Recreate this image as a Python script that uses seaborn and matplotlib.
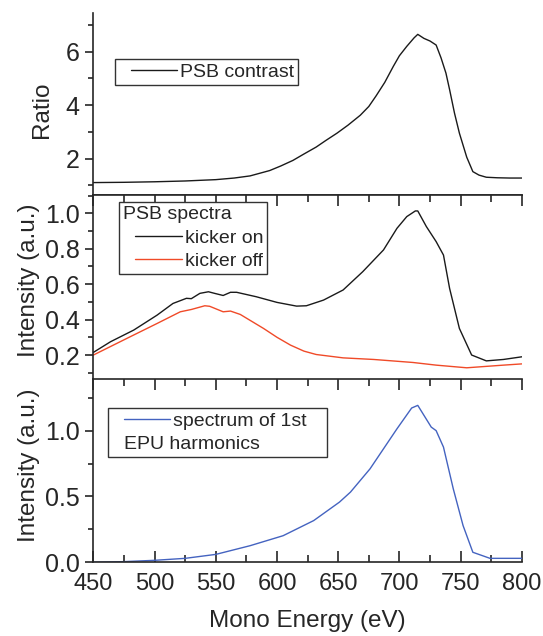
import numpy as np
import pandas as pd
import matplotlib
matplotlib.use("Agg")
import matplotlib.pyplot as plt
from matplotlib.ticker import MultipleLocator, FormatStrFormatter
from matplotlib.legend_handler import HandlerLine2D
from matplotlib.lines import Line2D
import seaborn as sns

# ------------------------------------------------------------------
# data
# ------------------------------------------------------------------
ratio_energy = [450, 475, 500, 525, 550, 565, 578, 594, 603, 613, 622, 632, 640,
                649, 658, 668, 675, 681, 688, 695, 700, 706, 712, 715, 720, 725,
                730, 734, 738, 741, 745, 749, 755, 760, 765, 771, 780, 790, 800]
ratio_value = [1.10, 1.11, 1.13, 1.16, 1.21, 1.27, 1.35, 1.55, 1.72, 1.93, 2.17,
               2.43, 2.68, 2.95, 3.25, 3.62, 3.95, 4.35, 4.85, 5.45, 5.85, 6.20,
               6.52, 6.65, 6.50, 6.40, 6.25, 5.77, 5.20, 4.58, 3.70, 2.95, 2.05,
               1.51, 1.38, 1.30, 1.28, 1.27, 1.27]

on_energy = [450, 464, 483, 502, 515, 526, 530, 537, 544, 549, 556, 562, 567, 583,
             600, 616, 624, 638, 654, 670, 687, 698, 706, 713, 715, 722, 730, 736,
             741, 749, 759, 771, 785, 800]
kicker_on = [0.215, 0.275, 0.341, 0.425, 0.491, 0.520, 0.518, 0.548, 0.557, 0.548,
             0.536, 0.554, 0.554, 0.529, 0.497, 0.476, 0.478, 0.510, 0.567, 0.670,
             0.793, 0.915, 0.981, 1.013, 1.013, 0.925, 0.840, 0.764, 0.576, 0.350,
             0.200, 0.167, 0.175, 0.190]

off_energy = [450, 480, 502, 521, 530, 541, 545, 556, 562, 570, 589, 600, 611, 622,
              632, 654, 679, 711, 730, 755, 785, 800]
kicker_off = [0.200, 0.303, 0.378, 0.444, 0.457, 0.478, 0.475, 0.444, 0.448, 0.429,
              0.350, 0.300, 0.256, 0.222, 0.203, 0.184, 0.175, 0.158, 0.143, 0.128,
              0.143, 0.150]

epu_energy = [450, 475, 500, 525, 550, 578, 605, 630, 651, 660, 676, 698, 710, 715,
              726, 730, 736, 744, 752, 760, 774, 790, 800]
epu_value = [0.0, 0.005, 0.015, 0.03, 0.06, 0.126, 0.202, 0.317, 0.457, 0.533, 0.71,
             1.014, 1.172, 1.192, 1.027, 1.0, 0.875, 0.558, 0.279, 0.076, 0.030,
             0.030, 0.030]

# ------------------------------------------------------------------
# style
# ------------------------------------------------------------------
sns.set_style("ticks")
plt.rcParams["font.family"] = ["Liberation Sans", "DejaVu Sans"]
plt.rcParams["axes.linewidth"] = 1.2

black = "#1a1a1a"
red = "#f04a28"
blue = "#4463c0"

fig = plt.figure(figsize=(5.43, 6.36), dpi=100)
left, width = 0.172, 0.789
ax1 = fig.add_axes([left, 0.6934, width, 0.2866])
ax2 = fig.add_axes([left, 0.4036, width, 0.2898])
ax3 = fig.add_axes([left, 0.1159, width, 0.2877])

df_ratio = pd.DataFrame({"E": ratio_energy, "y": ratio_value})
df_on = pd.DataFrame({"E": on_energy, "y": kicker_on})
df_off = pd.DataFrame({"E": off_energy, "y": kicker_off})
df_epu = pd.DataFrame({"E": epu_energy, "y": epu_value})

sns.lineplot(data=df_ratio, x="E", y="y", ax=ax1, color=black, lw=1.0, label="PSB contrast")
sns.lineplot(data=df_on, x="E", y="y", ax=ax2, color=black, lw=1.0, label="kicker on")
sns.lineplot(data=df_off, x="E", y="y", ax=ax2, color=red, lw=1.0, label="kicker off")
sns.lineplot(data=df_epu, x="E", y="y", ax=ax3, color=blue, lw=1.0, label="spectrum of 1st   ")

ytick_fs = 18
xtick_fs = 17
for ax in (ax1, ax2, ax3):
    ax.set_xlim(450, 800)
    ax.spines["right"].set_visible(False)
    ax.xaxis.set_major_locator(MultipleLocator(50))
    ax.xaxis.set_minor_locator(MultipleLocator(25))
    ax.tick_params(axis="y", which="major", direction="out", length=6, width=1.2,
                   labelsize=ytick_fs, pad=4)
    ax.tick_params(axis="y", which="minor", direction="out", length=3.5, width=1.2)
    ax.set_xlabel("")

ax1.set_ylim(0.635, 7.46)
ax1.yaxis.set_major_locator(MultipleLocator(2))
ax1.yaxis.set_minor_locator(MultipleLocator(1))
ax1.spines["top"].set_visible(False)
ax1.tick_params(axis="x", which="both", bottom=False, labelbottom=False)

ax2.set_ylim(0.063, 1.103)
ax2.yaxis.set_major_locator(MultipleLocator(0.2))
ax2.yaxis.set_minor_locator(MultipleLocator(0.1))
ax2.spines["bottom"].set_visible(False)

ax3.set_ylim(0.0, 1.39)
ax3.yaxis.set_major_locator(MultipleLocator(0.5))
ax3.yaxis.set_minor_locator(MultipleLocator(0.25))

for ax in (ax2, ax3):
    ax.tick_params(axis="x", which="major", direction="in", length=8, width=1.2,
                   top=True, bottom=False, labelbottom=False)
    ax.tick_params(axis="x", which="minor", direction="in", length=5, width=1.2,
                   top=True, bottom=False)
ax3.tick_params(axis="x", which="major", bottom=True, labelbottom=True,
                labelsize=xtick_fs, pad=7.5)
ax3.tick_params(axis="x", which="minor", bottom=True)
ax2.yaxis.set_major_formatter(FormatStrFormatter("%.1f"))
ax3.yaxis.set_major_formatter(FormatStrFormatter("%.1f"))

label_fs = 17.5
ax1.set_ylabel("Ratio", fontsize=label_fs)
ax2.set_ylabel("Intensity (a.u.)", fontsize=label_fs)
ax3.set_ylabel("Intensity (a.u.)", fontsize=label_fs)
ax1.yaxis.set_label_coords(-0.095, 0.466)
ax2.yaxis.set_label_coords(-0.125, 0.54)
ax3.yaxis.set_label_coords(-0.125, 0.53)
ax3.set_xlabel("Mono Energy (eV)", fontsize=label_fs, labelpad=11)

# legends
leg_fs = 14
leg_kw = dict(loc="upper left", fontsize=leg_fs, frameon=True, fancybox=False,
              framealpha=1, edgecolor="#333333", borderaxespad=0, borderpad=0.2,
              handletextpad=0.15, handlelength=3.0, labelspacing=0.3)
hmap = {Line2D: HandlerLine2D(xpad=0.6)}

h1, l1 = ax1.get_legend_handles_labels()
leg1 = ax1.legend(h1, l1, bbox_to_anchor=(0.0506, 0.745), handler_map=hmap, **leg_kw)

h2, l2 = ax2.get_legend_handles_labels()
leg2 = ax2.legend(h2, l2, bbox_to_anchor=(0.0607, 0.96), title="PSB spectra",
                  title_fontsize=leg_fs, alignment="left", handler_map=hmap, **leg_kw)

h3, l3 = ax3.get_legend_handles_labels()
blank = Line2D([], [], color="none")
leg3 = ax3.legend(h3 + [blank], l3 + [" "], bbox_to_anchor=(0.034, 0.842),
                  handler_map=hmap, **leg_kw)
for leg in (leg1, leg2, leg3):
    leg.get_frame().set_linewidth(1.0)

# second line of the EPU legend, starting under the handle
fig.canvas.draw()
line_bb = leg3.legend_handles[0].get_window_extent()
row_bb = leg3.get_texts()[1].get_window_extent()
x_ax, y_ax = ax3.transAxes.inverted().transform((line_bb.x0, row_bb.y0))
ax3.text(x_ax, y_ax, "EPU harmonics", transform=ax3.transAxes, fontsize=leg_fs,
         ha="left", va="bottom", zorder=20)

fig.savefig("out.png", dpi=100)
